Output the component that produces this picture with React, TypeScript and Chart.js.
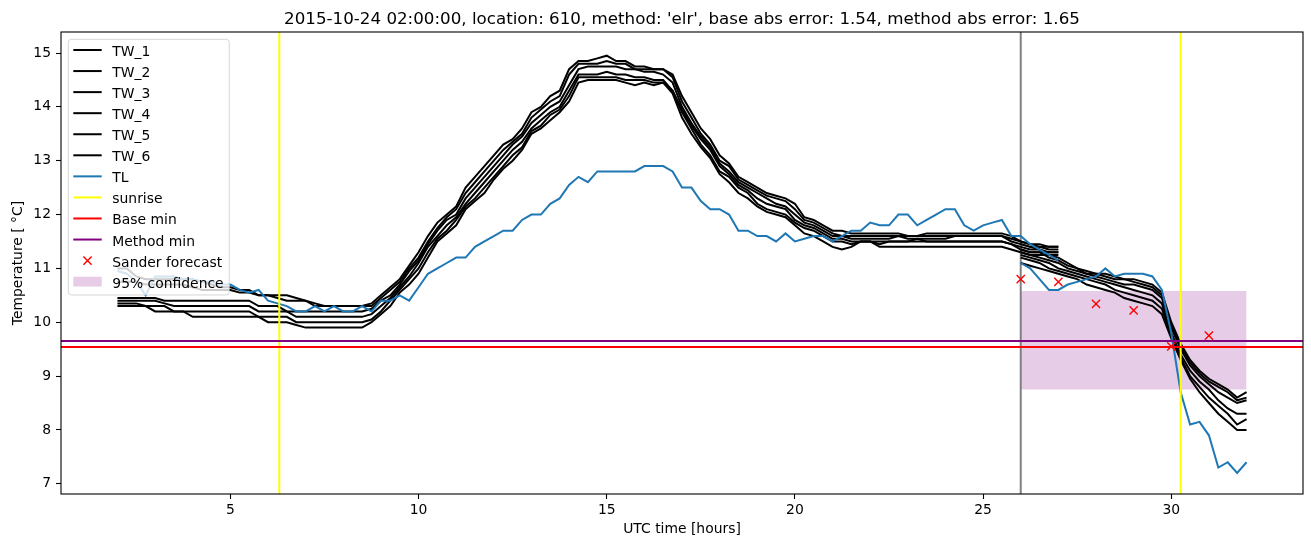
import React, { useEffect, useRef } from 'react';
import { Chart, registerables } from 'chart.js';

Chart.register(...registerables);

const FONT = "'DejaVu Sans', 'Liberation Sans', sans-serif";

const TITLE = "2015-10-24 02:00:00, location: 610, method: 'elr', base abs error: 1.54, method abs error: 1.65";
const X_LABEL = 'UTC time [hours]';
const Y_LABEL = 'Temperature [ °C]';
const X_TICKS = [5, 10, 15, 20, 25, 30];
const Y_TICKS = [7, 8, 9, 10, 11, 12, 13, 14, 15];
const X_MIN = 0.5;
const X_MAX = 33.5;
const Y_MIN = 6.81;
const Y_MAX = 15.39;

// observed period (hours)
const HIST_T = [
  2, 2.25, 2.5, 2.75, 3, 3.25, 3.5, 3.75, 4, 4.25, 4.5, 4.75, 5, 5.25, 5.5, 5.75, 6, 6.25, 6.5, 6.75,
  7, 7.25, 7.5, 7.75, 8, 8.25, 8.5, 8.75, 9, 9.25, 9.5, 9.75, 10, 10.25, 10.5, 10.75, 11, 11.25, 11.5, 11.75,
  12, 12.25, 12.5, 12.75, 13, 13.25, 13.5, 13.75, 14, 14.25, 14.5, 14.75, 15, 15.25, 15.5, 15.75, 16, 16.25, 16.5, 16.75,
  17, 17.25, 17.5, 17.75, 18, 18.25, 18.5, 18.75, 19, 19.25, 19.5, 19.75, 20, 20.25, 20.5, 20.75, 21, 21.25, 21.5, 21.75,
  22, 22.25, 22.5, 22.75, 23, 23.25, 23.5, 23.75, 24, 24.25, 24.5, 24.75, 25, 25.25, 25.5, 25.75, 26, 26.25, 26.5, 26.75, 27,
];
// forecast period (hours)
const FC_T = [
  26, 26.25, 26.5, 26.75, 27, 27.25, 27.5, 27.75, 28, 28.25, 28.5, 28.75, 29, 29.25, 29.5, 29.75,
  30, 30.25, 30.5, 30.75, 31, 31.25, 31.5, 31.75, 32,
];

const TW1_HIST = [
  11.0, 11.0, 10.85, 10.8, 10.8, 10.8, 10.8, 10.8, 10.8, 10.75, 10.7, 10.65, 10.65, 10.6, 10.6, 10.5, 10.5, 10.5, 10.5, 10.45, 10.4, 10.35, 10.3, 10.3, 10.3, 10.3, 10.3, 10.35,
  10.5, 10.65, 10.8, 11.05, 11.3, 11.6, 11.85, 12.0, 12.15, 12.5, 12.7, 12.9, 13.1, 13.3, 13.4, 13.6, 13.9, 14.0, 14.2, 14.3, 14.7,
  14.85, 14.85, 14.9, 14.95, 14.85, 14.85, 14.75, 14.75, 14.7, 14.7, 14.6,
  14.2, 13.9, 13.6, 13.4, 13.1, 12.95, 12.7, 12.6, 12.5, 12.4, 12.35, 12.3, 12.2,
  11.95, 11.9, 11.8, 11.7, 11.7, 11.65, 11.65, 11.65, 11.65, 11.65, 11.65, 11.6, 11.6, 11.65, 11.65, 11.65, 11.65, 11.65, 11.65, 11.65, 11.65, 11.65, 11.6, 11.5, 11.45, 11.45, 11.4, 11.4,
];
const TW2_HIST = [
  10.75, 10.75, 10.75, 10.7, 10.7, 10.7, 10.7, 10.7, 10.65, 10.6, 10.6, 10.6, 10.6, 10.55, 10.55, 10.5, 10.5, 10.45, 10.4, 10.4, 10.4, 10.3, 10.3, 10.3, 10.3, 10.3, 10.3, 10.3,
  10.45, 10.6, 10.75, 11.0, 11.2, 11.5, 11.75, 11.95, 12.1, 12.4, 12.6, 12.8, 13.0, 13.2, 13.35, 13.5, 13.8, 13.95, 14.1, 14.2, 14.6,
  14.8, 14.8, 14.8, 14.85, 14.8, 14.8, 14.7, 14.7, 14.7, 14.7, 14.55,
  14.1, 13.8, 13.5, 13.3, 13.0, 12.9, 12.65, 12.55, 12.45, 12.35, 12.3, 12.25, 12.1,
  11.9, 11.85, 11.75, 11.65, 11.6, 11.6, 11.6, 11.6, 11.6, 11.6, 11.6, 11.6, 11.6, 11.6, 11.6, 11.6, 11.6, 11.6, 11.6, 11.6, 11.6, 11.6, 11.55, 11.5, 11.45, 11.4, 11.4, 11.4,
];
const TW3_HIST = [
  10.45, 10.45, 10.45, 10.45, 10.45, 10.4, 10.4, 10.4, 10.4, 10.4, 10.4, 10.4, 10.4, 10.4, 10.4, 10.3, 10.3, 10.3, 10.2, 10.2, 10.2, 10.2, 10.2, 10.2, 10.2, 10.2, 10.2, 10.25,
  10.4, 10.5, 10.7, 10.95, 11.15, 11.45, 11.7, 11.9, 12.0, 12.3, 12.5, 12.7, 12.9, 13.1, 13.3, 13.45, 13.7, 13.85, 14.0, 14.1, 14.4,
  14.7, 14.75, 14.75, 14.75, 14.75, 14.7, 14.7, 14.65, 14.65, 14.6, 14.45,
  14.0, 13.7, 13.45, 13.25, 12.95, 12.8, 12.6, 12.5, 12.4, 12.3, 12.2, 12.15, 12.0,
  11.85, 11.8, 11.7, 11.6, 11.6, 11.55, 11.55, 11.55, 11.55, 11.55, 11.6, 11.55, 11.55, 11.55, 11.55, 11.55, 11.6, 11.6, 11.6, 11.6, 11.6, 11.6, 11.5, 11.45, 11.4, 11.4, 11.35, 11.35,
];
const TW4_HIST = [
  10.4, 10.4, 10.4, 10.4, 10.4, 10.35, 10.3, 10.3, 10.3, 10.3, 10.3, 10.3, 10.3, 10.3, 10.3, 10.2, 10.2, 10.2, 10.2, 10.1, 10.1, 10.1, 10.1, 10.1, 10.1, 10.1, 10.1, 10.15,
  10.3, 10.45, 10.65, 10.85, 11.1, 11.4, 11.6, 11.8, 11.95, 12.2, 12.4, 12.6, 12.8, 13.0, 13.2, 13.35, 13.6, 13.75, 13.9, 14.0, 14.3,
  14.6, 14.6, 14.6, 14.65, 14.6, 14.6, 14.55, 14.55, 14.5, 14.5, 14.3,
  13.95, 13.65, 13.4, 13.2, 12.9, 12.75, 12.55, 12.45, 12.3, 12.2, 12.15, 12.1, 11.9,
  11.8, 11.75, 11.65, 11.55, 11.55, 11.5, 11.5, 11.5, 11.5, 11.5, 11.5, 11.5, 11.55, 11.5, 11.5, 11.5, 11.5, 11.5, 11.5, 11.5, 11.5, 11.5, 11.45, 11.4, 11.35, 11.35, 11.3, 11.3,
];
const TW5_HIST = [
  10.35, 10.35, 10.35, 10.3, 10.3, 10.3, 10.2, 10.2, 10.2, 10.2, 10.2, 10.2, 10.2, 10.2, 10.2, 10.1, 10.1, 10.1, 10.1, 10.0, 10.0, 10.0, 10.0, 10.0, 10.0, 10.0, 10.0, 10.05,
  10.2, 10.4, 10.6, 10.8, 11.0, 11.3, 11.55, 11.7, 11.9, 12.15, 12.3, 12.5, 12.7, 12.9, 13.1, 13.25, 13.55, 13.65, 13.85, 13.95, 14.2,
  14.55, 14.55, 14.55, 14.55, 14.55, 14.5, 14.5, 14.5, 14.45, 14.45, 14.3,
  13.9, 13.6, 13.3, 13.1, 12.8, 12.7, 12.5, 12.4, 12.2, 12.1, 12.05, 12.0, 11.85,
  11.75, 11.7, 11.6, 11.5, 11.5, 11.45, 11.5, 11.5, 11.45, 11.5, 11.5, 11.5, 11.5, 11.5, 11.5, 11.5, 11.5, 11.5, 11.5, 11.5, 11.5, 11.5, 11.45, 11.35, 11.3, 11.3, 11.3, 11.3,
];
const TW6_HIST = [
  10.3, 10.3, 10.3, 10.3, 10.2, 10.2, 10.2, 10.2, 10.1, 10.1, 10.1, 10.1, 10.1, 10.1, 10.1, 10.1, 10.0, 10.0, 10.0, 9.95, 9.9, 9.9, 9.9, 9.9, 9.9, 9.9, 9.9, 10.0,
  10.15, 10.3, 10.55, 10.7, 10.9, 11.2, 11.5, 11.65, 11.8, 12.1, 12.25, 12.4, 12.65, 12.85, 13.0, 13.2, 13.5, 13.6, 13.75, 13.9, 14.1,
  14.45, 14.5, 14.5, 14.5, 14.5, 14.45, 14.4, 14.45, 14.4, 14.45, 14.25,
  13.8, 13.5, 13.25, 13.05, 12.75, 12.6, 12.4, 12.3, 12.15, 12.05, 12.0, 11.95, 11.8,
  11.65, 11.6, 11.5, 11.4, 11.35, 11.4, 11.5, 11.5, 11.4, 11.4, 11.4, 11.4, 11.4, 11.4, 11.4, 11.4, 11.4, 11.4, 11.4, 11.4, 11.4, 11.4, 11.35, 11.3, 11.25, 11.25, 11.25, 11.25,
];

const TW1_FC = [11.45, 11.4, 11.35, 11.25, 11.2, 11.1, 11.0, 10.95, 10.9, 10.9, 10.85, 10.8, 10.8, 10.75, 10.7, 10.55, 10.0, 9.6, 9.3, 9.1, 8.95, 8.85, 8.75, 8.6, 8.7];
const TW2_FC = [11.35, 11.3, 11.3, 11.2, 11.15, 11.05, 11.0, 10.9, 10.9, 10.85, 10.8, 10.8, 10.75, 10.7, 10.65, 10.5, 9.95, 9.55, 9.25, 9.05, 8.9, 8.8, 8.7, 8.55, 8.6];
const TW3_FC = [11.3, 11.25, 11.2, 11.15, 11.1, 11.0, 10.95, 10.9, 10.85, 10.8, 10.75, 10.7, 10.7, 10.65, 10.6, 10.45, 9.9, 9.5, 9.2, 9.0, 8.85, 8.7, 8.6, 8.5, 8.55];
const TW4_FC = [11.25, 11.2, 11.15, 11.1, 11.0, 10.95, 10.9, 10.85, 10.8, 10.75, 10.7, 10.65, 10.6, 10.55, 10.5, 10.35, 9.8, 9.4, 9.1, 8.9, 8.75, 8.55, 8.4, 8.3, 8.3];
const TW5_FC = [11.2, 11.15, 11.1, 11.0, 10.95, 10.9, 10.85, 10.8, 10.75, 10.7, 10.6, 10.55, 10.5, 10.45, 10.4, 10.25, 9.75, 9.35, 9.0, 8.8, 8.6, 8.45, 8.3, 8.1, 8.2];
const TW6_FC = [11.1, 11.05, 11.0, 10.95, 10.9, 10.85, 10.8, 10.7, 10.65, 10.6, 10.55, 10.45, 10.4, 10.35, 10.3, 10.15, 9.7, 9.3, 8.95, 8.7, 8.5, 8.3, 8.15, 8.0, 8.0];

const TL_HIST = [
  10.95, 10.9, 10.75, 10.5, 10.85, 10.85, 10.85, 10.8, 10.8, 10.75, 10.75, 10.7, 10.7, 10.6, 10.55, 10.6, 10.4, 10.35, 10.3, 10.2,
  10.2, 10.3, 10.2, 10.3, 10.2, 10.2, 10.3, 10.2, 10.4, 10.4, 10.5, 10.4, 10.65, 10.9, 11.0, 11.1, 11.2, 11.2, 11.4, 11.5,
  11.6, 11.7, 11.7, 11.9, 12.0, 12.0, 12.2, 12.3, 12.55, 12.7, 12.6, 12.8, 12.8, 12.8, 12.8, 12.8, 12.9, 12.9, 12.9, 12.8,
  12.5, 12.5, 12.25, 12.1, 12.1, 12.0, 11.7, 11.7, 11.6, 11.6, 11.5, 11.65, 11.5, 11.55, 11.6, 11.6, 11.5, 11.6, 11.7, 11.7,
  11.85, 11.8, 11.8, 12.0, 12.0, 11.8, 11.9, 12.0, 12.1, 12.1, 11.8, 11.7, 11.8, 11.85, 11.9, 11.6, 11.6, 11.45, 11.35, 11.25, 11.15,
];
const TL_FC = [11.1, 11.0, 10.8, 10.6, 10.6, 10.7, 10.75, 10.8, 10.85, 11.0, 10.85, 10.9, 10.9, 10.9, 10.85, 10.6, 9.8, 8.7, 8.1, 8.15, 7.9, 7.3, 7.4, 7.2, 7.4];

const SUNRISE_T = [6.3, 30.25];
const ISSUE_T = 26;
const BASE_MIN = 9.54;
const METHOD_MIN = 9.65;
const SANDER_T = [26, 27, 28, 29, 30, 31];
const SANDER_V = [10.8, 10.75, 10.34, 10.22, 9.55, 9.75];
const CONF_T = [26, 32];
const CONF_LOW = 8.75;
const CONF_HIGH = 10.58;

function joined(tA: number[], vA: number[], tB: number[], vB: number[]) {
  const pts: { x: number; y: number | null }[] = tA.map((t, i) => ({ x: t, y: vA[i] }));
  pts.push({ x: tA[tA.length - 1], y: null });
  tB.forEach((t, i) => pts.push({ x: t, y: vB[i] }));
  return pts;
}

function vlines(xs: number[]) {
  const pts: { x: number; y: number | null }[] = [];
  xs.forEach((x, i) => {
    if (i > 0) pts.push({ x, y: null });
    pts.push({ x, y: Y_MIN - 1 });
    pts.push({ x, y: Y_MAX + 1 });
  });
  return pts;
}

function hline(y: number) {
  return [{ x: X_MIN - 5, y }, { x: X_MAX + 5, y }];
}

const mplPlugin = {
  id: 'mplDecor',
  afterDatasetsDraw(chart: any) {
    const ctx = chart.ctx as CanvasRenderingContext2D;
    const a = chart.chartArea;
    ctx.save();
    // spines
    ctx.strokeStyle = '#000';
    ctx.lineWidth = 1.1;
    ctx.strokeRect(a.left, a.top, a.right - a.left, a.bottom - a.top);
    // title
    ctx.fillStyle = '#000';
    ctx.font = `16.7px ${FONT}`;
    ctx.textAlign = 'center';
    ctx.textBaseline = 'alphabetic';
    ctx.fillText(TITLE, (a.left + a.right) / 2, 24);

    // legend
    const items = chart.data.datasets.filter((d: any) => d.label);
    ctx.font = `13.9px ${FONT}`;
    ctx.textAlign = 'left';
    const maxW = Math.max(...items.map((d: any) => ctx.measureText(d.label).width));
    const bx = a.left + 7.3;
    const by = a.top + 7.3;
    const row = 21.06;
    const firstY = a.top + 18;
    const hx = bx + 5;
    const hl = 28.4;
    const tx = hx + hl + 10.6;
    const bw = tx + maxW + 5.6 - bx;
    const bh = firstY + row * (items.length - 1) + 13.3 - by;
    const r = 3;
    ctx.beginPath();
    ctx.moveTo(bx + r, by);
    ctx.lineTo(bx + bw - r, by);
    ctx.quadraticCurveTo(bx + bw, by, bx + bw, by + r);
    ctx.lineTo(bx + bw, by + bh - r);
    ctx.quadraticCurveTo(bx + bw, by + bh, bx + bw - r, by + bh);
    ctx.lineTo(bx + r, by + bh);
    ctx.quadraticCurveTo(bx, by + bh, bx, by + bh - r);
    ctx.lineTo(bx, by + r);
    ctx.quadraticCurveTo(bx, by, bx + r, by);
    ctx.closePath();
    ctx.fillStyle = 'rgba(255,255,255,0.8)';
    ctx.fill();
    ctx.strokeStyle = 'rgba(204,204,204,0.8)';
    ctx.lineWidth = 1;
    ctx.stroke();

    items.forEach((d: any, i: number) => {
      const cy = firstY + i * row;
      if (d.legendKind === 'line') {
        ctx.strokeStyle = d.borderColor;
        ctx.lineWidth = 2;
        ctx.beginPath();
        ctx.moveTo(hx, cy);
        ctx.lineTo(hx + hl, cy);
        ctx.stroke();
      } else if (d.legendKind === 'marker') {
        const cx = hx + hl / 2;
        const s = 4.1;
        ctx.strokeStyle = d.pointBorderColor;
        ctx.lineWidth = 1.4;
        ctx.beginPath();
        ctx.moveTo(cx - s, cy - s);
        ctx.lineTo(cx + s, cy + s);
        ctx.moveTo(cx - s, cy + s);
        ctx.lineTo(cx + s, cy - s);
        ctx.stroke();
      } else if (d.legendKind === 'patch') {
        ctx.fillStyle = d.backgroundColor;
        ctx.fillRect(hx, cy - 4.9, hl, 9.8);
      }
      ctx.fillStyle = '#000';
      ctx.textBaseline = 'alphabetic';
      ctx.fillText(d.label, tx, cy + 6);
    });
    ctx.restore();
  },
};

const lineBase = { pointRadius: 0, borderWidth: 2, tension: 0, fill: false, spanGaps: false };

export default function App() {
  const ref = useRef<HTMLCanvasElement>(null);

  useEffect(() => {
    if (!ref.current) return;
    const tw = [
      ['TW_1', TW1_HIST, TW1_FC],
      ['TW_2', TW2_HIST, TW2_FC],
      ['TW_3', TW3_HIST, TW3_FC],
      ['TW_4', TW4_HIST, TW4_FC],
      ['TW_5', TW5_HIST, TW5_FC],
      ['TW_6', TW6_HIST, TW6_FC],
    ].map(([label, h, f]: any) => ({
      ...lineBase,
      label,
      legendKind: 'line',
      data: joined(HIST_T, h, FC_T, f),
      borderColor: '#000000',
      order: 5,
    }));

    const datasets: any[] = [
      ...tw,
      {
        ...lineBase,
        label: 'TL',
        legendKind: 'line',
        data: joined(HIST_T, TL_HIST, FC_T, TL_FC),
        borderColor: '#1f77b4',
        order: 4,
      },
      {
        ...lineBase,
        label: 'sunrise',
        legendKind: 'line',
        data: vlines(SUNRISE_T),
        borderColor: '#ffff00',
        clip: 0,
        order: 3,
      },
      {
        ...lineBase,
        label: 'Base min',
        legendKind: 'line',
        data: hline(BASE_MIN),
        borderColor: '#ff0000',
        clip: 0,
        order: 2,
      },
      {
        ...lineBase,
        label: 'Method min',
        legendKind: 'line',
        data: hline(METHOD_MIN),
        borderColor: '#800080',
        clip: 0,
        order: 2,
      },
      {
        label: 'Sander forecast',
        legendKind: 'marker',
        data: SANDER_T.map((t, i) => ({ x: t, y: SANDER_V[i] })),
        showLine: false,
        pointStyle: 'crossRot',
        pointRadius: 5.8,
        pointBorderWidth: 1.4,
        pointBorderColor: '#ff0000',
        pointBackgroundColor: '#ff0000',
        borderColor: '#ff0000',
        order: 1,
      },
      {
        label: '95% confidence',
        legendKind: 'patch',
        data: CONF_T.map((t) => ({ x: t, y: CONF_HIGH })),
        fill: { value: CONF_LOW },
        backgroundColor: 'rgba(128,0,128,0.2)',
        borderWidth: 0,
        borderColor: 'rgba(0,0,0,0)',
        pointRadius: 0,
        order: 7,
      },
      {
        ...lineBase,
        label: '',
        data: vlines([ISSUE_T]),
        borderColor: '#808080',
        clip: 0,
        order: 6,
      },
    ];

    const tickFont = { family: FONT, size: 13.9 };
    const gridCfg = {
      display: true,
      drawOnChartArea: false,
      drawTicks: true,
      tickLength: 5,
      tickColor: '#000',
      tickWidth: 1.1,
    };

    const chart = new Chart(ref.current, {
      type: 'line',
      data: { datasets },
      plugins: [mplPlugin],
      options: {
        responsive: false,
        animation: false,
        devicePixelRatio: 1,
        events: [],
        layout: { padding: { left: 0, top: 32, right: 8, bottom: 0 } },
        plugins: {
          legend: { display: false },
          title: { display: false },
          tooltip: { enabled: false },
        },
        scales: {
          x: {
            type: 'linear',
            min: X_MIN,
            max: X_MAX,
            afterBuildTicks: (axis: any) => {
              axis.ticks = X_TICKS.map((v) => ({ value: v }));
            },
            afterFit: (axis: any) => {
              axis.height = 53;
            },
            grid: gridCfg,
            border: { display: false },
            ticks: { color: '#000', font: tickFont, padding: 3, maxRotation: 0, autoSkip: false },
            title: {
              display: true,
              text: X_LABEL,
              color: '#000',
              font: tickFont,
              padding: { top: 0, bottom: 9.7 },
            },
          },
          y: {
            type: 'linear',
            min: Y_MIN,
            max: Y_MAX,
            afterBuildTicks: (axis: any) => {
              axis.ticks = Y_TICKS.map((v) => ({ value: v }));
            },
            afterFit: (axis: any) => {
              axis.width = 61;
            },
            grid: gridCfg,
            border: { display: false },
            ticks: { color: '#000', font: tickFont, padding: 5, autoSkip: false },
            title: {
              display: true,
              text: Y_LABEL,
              color: '#000',
              font: tickFont,
              padding: { top: 10, bottom: 0 },
            },
          },
        },
      } as any,
    });
    return () => chart.destroy();
  }, []);

  return (
    <div style={{ position: 'absolute', left: 0, top: 0, width: 1311, height: 547, background: '#fff' }}>
      <canvas ref={ref} width={1311} height={547} style={{ display: 'block', width: 1311, height: 547 }} />
    </div>
  );
}
